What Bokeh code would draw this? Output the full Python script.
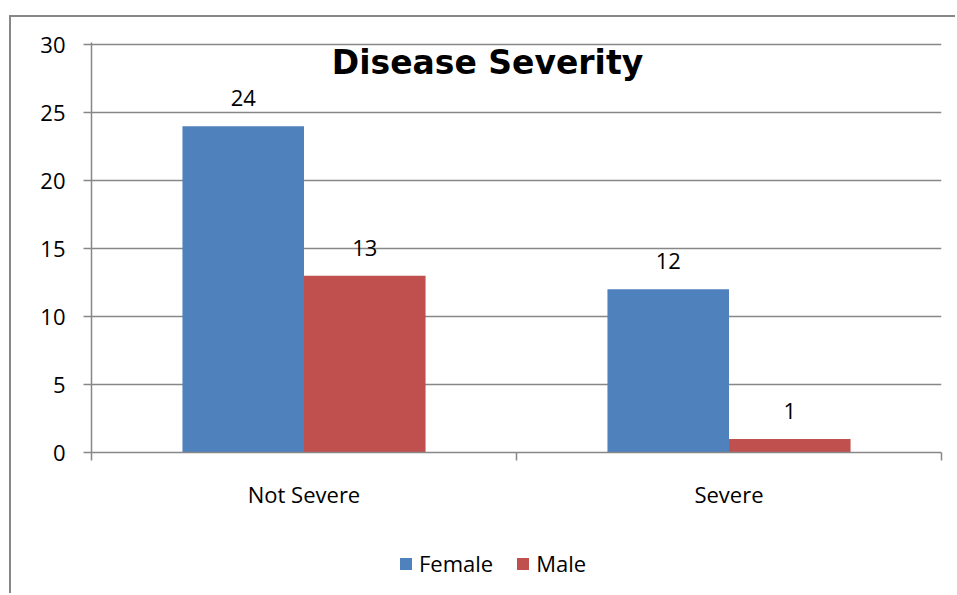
from bokeh.plotting import figure
from bokeh.layouts import column
from bokeh.models import (Range1d, FixedTicker, Legend, LegendItem, Label,
                          ColumnDataSource)
from bokeh.transform import dodge
from bokeh.core.properties import value
from bokeh.embed import file_html
from bokeh.resources import INLINE

categories = ["Not Severe", "Severe"]
female = [24, 12]
male = [13, 1]
series_names = ["Female", "Male"]
y_ticks = [0, 5, 10, 15, 20, 25, 30]
title_text = "Disease Severity"

FONT = "Open Sans"
TITLE_FONT = "DejaVu Sans"
BLUE = "#4F81BD"
RED = "#C0504D"
GRID = "#878787"

xs = [i + 0.5 for i in range(len(categories))]
src = ColumnDataSource(dict(x=xs, female=female, male=male,
                            flab=[str(v) for v in female],
                            mlab=[str(v) for v in male]))

p = figure(width=946, height=495, output_backend="svg", toolbar_location=None,
           x_range=Range1d(0, len(categories)), y_range=Range1d(0, 30.15),
           min_border_left=80, min_border_right=16, min_border_top=25,
           min_border_bottom=60)
p.outline_line_color = None
p.background_fill_color = "white"
p.border_fill_color = "white"

bw = 0.286
rf = p.vbar(x=dodge("x", -bw / 2, range=p.x_range), top="female", width=bw,
            source=src, fill_color=BLUE, line_color=None)
rm = p.vbar(x=dodge("x", bw / 2, range=p.x_range), top="male", width=bw,
            source=src, fill_color=RED, line_color=None)

for col, lab, off in (("female", "flab", -bw / 2), ("male", "mlab", bw / 2)):
    p.text(x=dodge("x", off, range=p.x_range), y=col, text=lab, source=src,
           text_align="center", text_baseline="alphabetic", y_offset=-28,
           text_font=value(FONT), text_font_size="22px", text_color="black")

# axes
p.xaxis.ticker = FixedTicker(ticks=xs, minor_ticks=list(range(len(categories) + 1)))
p.xaxis.major_label_overrides = {x: c for x, c in zip(xs, categories)}
p.xaxis.major_tick_out = 0
p.xaxis.major_tick_in = 0
p.xaxis.minor_tick_out = 8
p.xaxis.minor_tick_in = 0
p.xaxis.minor_tick_line_color = GRID
p.xaxis.minor_tick_line_width = 1.5
p.xaxis.axis_line_color = GRID
p.xaxis.axis_line_width = 1.5
p.xaxis.major_label_standoff = 18
p.xaxis.major_label_text_font = FONT
p.xaxis.major_label_text_font_size = "22px"
p.xaxis.major_label_text_color = "black"

p.yaxis.ticker = FixedTicker(ticks=y_ticks)
p.yaxis.major_tick_out = 8
p.yaxis.major_tick_in = 0
p.yaxis.minor_tick_line_color = None
p.yaxis.major_tick_line_color = GRID
p.yaxis.major_tick_line_width = 1.5
p.yaxis.axis_line_color = GRID
p.yaxis.axis_line_width = 1.5
p.yaxis.major_label_standoff = 18
p.yaxis.major_label_text_font = FONT
p.yaxis.major_label_text_font_size = "22px"
p.yaxis.major_label_text_color = "black"

p.xgrid.grid_line_color = None
p.ygrid.grid_line_color = GRID
p.ygrid.grid_line_width = 1.5

# title
p.add_layout(Label(x=396, y=390, x_units="screen", y_units="screen",
                   text=title_text, text_align="center", text_baseline="alphabetic",
                   text_font=TITLE_FONT, text_font_style="bold", text_font_size="33px",
                   text_color="black"))

# legend strip (separate small figure below the chart, no axes);
# its bars lie outside its y range, only the legend shows
p2 = figure(width=946, height=83, output_backend="svg", toolbar_location=None,
            min_border=0, x_axis_location=None, y_axis_location=None,
            x_range=Range1d(0, len(categories)), y_range=Range1d(100, 101))
p2.grid.grid_line_color = None
p2.outline_line_color = None
p2.border_fill_color = "white"
lf = p2.vbar(x="x", top="female", width=bw, source=src,
             fill_color=BLUE, line_color=None)
lm = p2.vbar(x="x", top="male", width=bw, source=src,
             fill_color=RED, line_color=None)
legend = Legend(items=[LegendItem(label=series_names[0], renderers=[lf]),
                       LegendItem(label=series_names[1], renderers=[lm])],
                orientation="horizontal", location=(307, 17),
                glyph_width=15, glyph_height=15, label_standoff=6, spacing=22,
                label_text_font=FONT, label_text_font_size="22px",
                label_text_color="black",
                padding=0, margin=0, border_line_color=None,
                background_fill_alpha=0)
p2.add_layout(legend)

root = column(p, p2, spacing=0)
root.styles = {"position": "relative", "left": "11px", "top": "17px",
               "box-shadow": "-2px -2px 0px 0px #878787"}

open("out.html", "w").write(file_html(root, INLINE))
